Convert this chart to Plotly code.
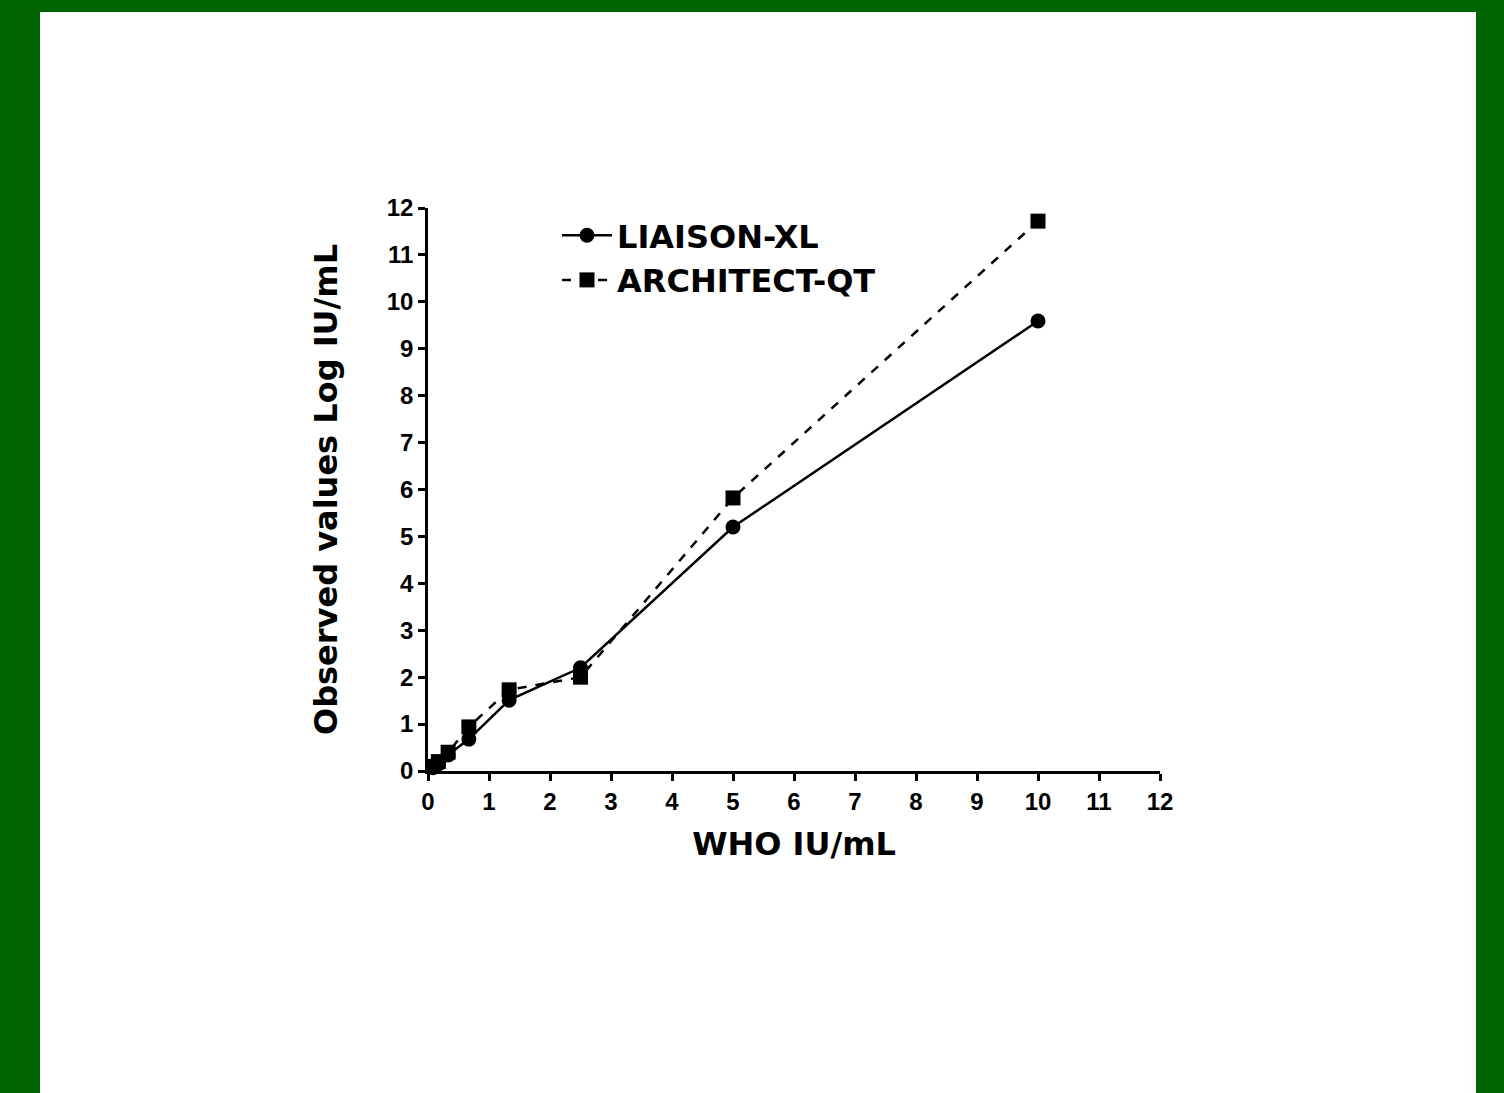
import plotly.graph_objects as go

x_who = [10, 5, 2.5, 1.33, 0.67, 0.33, 0.17, 0.08]
liaison = [9.59, 5.2, 2.2, 1.51, 0.68, 0.34, 0.15, 0.07]
architect = [11.72, 5.82, 2.0, 1.73, 0.94, 0.4, 0.2, 0.1]
tick_vals = list(range(0, 13))

W, H = 1504, 1093
L, R, T, B = 428, 344, 208, 322
pw, ph = W - L - R, H - T - B

def px(xp):
    return (xp - L) / pw

def py(yp):
    return (H - B - yp) / ph

fig = go.Figure()
fig.add_trace(go.Scatter(
    x=x_who, y=liaison, name="LIAISON-XL", mode="lines+markers",
    line=dict(color="black", width=2.5),
    marker=dict(symbol="circle", size=15, color="black"),
    cliponaxis=False,
))
fig.add_trace(go.Scatter(
    x=x_who, y=architect, name="ARCHITECT-QT", mode="lines+markers",
    line=dict(color="black", width=2.5, dash="dash"),
    marker=dict(symbol="square", size=15, color="black"),
    cliponaxis=False,
))

tickfont = dict(family="Liberation Sans, Arial", size=24, color="black", weight="bold")
titlefont = dict(family="DejaVu Sans, Verdana", size=32, color="black", weight="bold")

fig.update_layout(
    width=W, height=H,
    margin=dict(l=L, r=R, t=T, b=B, pad=0),
    paper_bgcolor="#006400",
    plot_bgcolor="white",
    showlegend=True,
    legend=dict(
        x=px(557), y=py(208), xanchor="left", yanchor="top",
        bgcolor="rgba(0,0,0,0)",
        font=dict(family="DejaVu Sans, Verdana", size=32, color="black", weight="bold"),
        itemwidth=50, tracegroupgap=0,
    ),
    shapes=[dict(
        type="rect", xref="paper", yref="paper", layer="below",
        x0=px(40), x1=px(1476), y0=py(1100), y1=py(12),
        fillcolor="white", line=dict(width=0),
    )],
    xaxis=dict(
        range=[0, 12], tickvals=tick_vals, showgrid=False, zeroline=False,
        showline=True, linecolor="black", linewidth=2.5,
        ticks="outside", ticklen=7, tickwidth=2.5, tickcolor="black",
        tickfont=tickfont,
        title=dict(text="WHO IU/mL", font=titlefont, standoff=20),
    ),
    yaxis=dict(
        range=[0, 12], tickvals=tick_vals, showgrid=False, zeroline=False,
        showline=True, linecolor="black", linewidth=2.5,
        ticks="outside", ticklen=7, tickwidth=2.5, tickcolor="black",
        tickfont=tickfont,
        title=dict(text="Observed values Log IU/mL", font=titlefont, standoff=40),
    ),
)

fig.write_html("out.html")
